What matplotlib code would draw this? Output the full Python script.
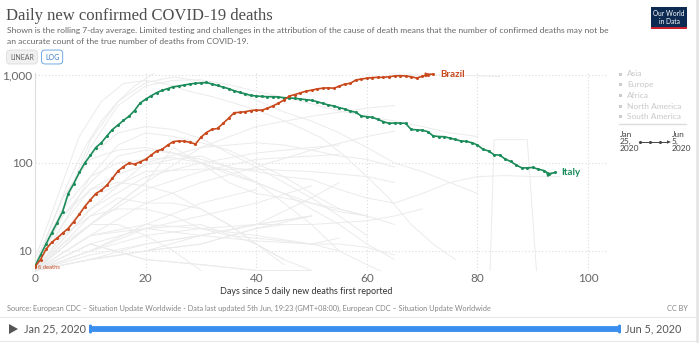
import matplotlib.pyplot as plt
import numpy as np
from matplotlib.patches import Rectangle, Polygon, FancyBboxPatch
from matplotlib.lines import Line2D

# daily deaths, rolling 7-day average, starting at day 0
italy = [6.7, 9, 12, 16, 21, 28, 45, 58, 78, 100,
         122, 150, 170, 203, 240, 270, 305, 340, 395, 480,
         530, 580, 630, 670, 700, 735, 750, 770, 790, 805,
         812, 822, 790, 760, 727, 700, 663, 635, 612, 587,
         577, 571, 567, 567, 562, 552, 548, 543, 534, 525,
         516, 498, 477, 457, 445, 426, 411, 389, 377, 342,
         336, 330, 313, 295, 282, 285, 284, 282, 241, 238,
         236, 227, 203, 200, 199, 192, 185, 178, 176, 170,
         160, 143, 137, 124, 123, 111, 104, 95, 88, 88,
         89, 85, 82, 75, 78]
brazil = [6.6, 8, 10.5, 12.5, 14, 16, 18, 21.5, 26, 32,
          38, 45, 49, 56, 67, 81, 91, 100, 97, 103,
          110, 123, 137, 143, 160, 175, 178, 177, 172, 164,
          196, 222, 241, 247, 282, 322, 373, 376, 383, 394,
          400, 398, 418, 445, 477, 520, 577, 600, 627, 655,
          672, 695, 708, 715, 708, 745, 790, 803, 877, 900,
          920, 935, 941, 941, 957, 975, 983, 975, 957, 924,
          966, 1010, 1026]

# other countries, shown in light grey (days, deaths)
usa = ([0, 3, 6, 9, 12, 15, 18, 21, 24, 60, 63, 66, 70, 75, 80, 84],
       [6, 20, 60, 150, 300, 500, 750, 1000, 1300, 1300, 1100, 1000, 1000, 990, 980, 960])
uk = ([0, 5, 10, 15, 20, 25, 30, 35, 40, 45, 50, 55, 60, 65, 70, 75, 80],
      [7, 30, 150, 450, 750, 870, 880, 780, 650, 560, 470, 390, 340, 300, 260, 220, 200])
spain = ([0, 4, 8, 12, 16, 20, 24, 28, 32, 36, 40, 44, 48, 52, 56, 60, 64, 68, 72, 76],
         [8, 40, 200, 500, 800, 870, 780, 650, 570, 480, 400, 320, 250, 190, 120, 70, 40, 20, 12, 8])
france = ([0, 5, 10, 15, 20, 25, 30, 35, 40, 45, 50, 55, 60, 65, 70, 75, 80],
          [7, 30, 180, 500, 820, 950, 850, 700, 520, 380, 300, 220, 150, 100, 80, 60, 45])
mexico = ([0, 10, 20, 30, 40, 50, 60, 65], [6, 20, 60, 150, 260, 340, 420, 450])
india = ([0, 10, 20, 30, 40, 50, 60, 65], [6, 15, 35, 60, 90, 140, 200, 230])
germany = ([0, 5, 10, 15, 20, 25, 30, 35, 40, 45, 50, 55, 60, 65],
           [6, 20, 70, 160, 220, 200, 170, 140, 100, 70, 45, 30, 25, 20])
belgium = ([0, 5, 10, 15, 20, 25, 30, 35, 40, 45, 50, 55, 60],
           [7, 40, 120, 220, 260, 240, 190, 130, 90, 60, 40, 25, 15])
netherlands = ([0, 5, 10, 15, 20, 25, 30, 35, 40, 45, 50, 55, 60, 65],
               [7, 40, 110, 140, 150, 130, 100, 75, 60, 45, 30, 20, 12, 8])
canada = ([0, 10, 20, 30, 40, 45, 50, 55, 60, 65], [6, 30, 100, 150, 170, 160, 140, 120, 110, 90])
sweden = ([0, 10, 20, 30, 40, 50, 60, 65], [6, 40, 80, 85, 85, 80, 70, 60])
iran = ([0, 5, 10, 15, 20, 25, 30, 35, 40, 45, 50, 55, 60, 65, 70, 75, 80, 85, 90, 95],
        [7, 25, 60, 120, 140, 130, 110, 90, 80, 70, 65, 50, 40, 35, 45, 60, 70, 72, 70, 70])
turkey = ([0, 5, 10, 15, 20, 25, 30, 35, 40, 45, 50, 55, 60],
          [7, 30, 70, 100, 110, 115, 100, 80, 60, 45, 35, 28, 25])
ecuador = ([0, 10, 20, 25, 30, 35, 40, 45, 50, 55, 60],
           [6, 20, 60, 150, 100, 60, 45, 40, 35, 30, 25])
china = ([0, 5, 10, 15, 20, 25, 30, 35, 40, 45, 50, 55, 60, 65, 70, 75, 80, 82, 83, 89, 91, 93],
         [6, 25, 50, 75, 95, 110, 120, 90, 60, 35, 20, 10, 7, 5, 4, 3, 2, 1.5, 184, 184, 3, 1])
peru = ([0, 10, 20, 30, 40, 50, 55], [6, 20, 50, 80, 110, 120, 125])
russia = ([0, 10, 20, 30, 40, 50, 55], [6, 30, 70, 100, 130, 150, 160])
chile = ([0, 10, 20, 30, 40, 50, 55], [6, 8, 12, 15, 20, 40, 60])
colombia = ([0, 10, 20, 30, 40, 50], [6, 9, 12, 15, 20, 25])
pakistan = ([0, 10, 20, 30, 40, 50], [6, 12, 18, 25, 35, 55])
portugal = ([0, 5, 10, 15, 20, 25, 30, 35, 40, 45, 50, 55, 60, 65],
            [6, 15, 25, 30, 30, 25, 18, 15, 14, 13, 12, 12, 11, 9])
switzerland = ([0, 5, 10, 15, 20, 25, 30, 35, 40, 45, 50],
               [6, 20, 50, 60, 55, 45, 30, 20, 12, 8, 6])
ireland = ([0, 5, 10, 15, 20, 25, 30, 35, 40, 45], [6, 12, 25, 40, 35, 35, 30, 20, 12, 8])
indonesia = ([0, 10, 20, 30, 40, 50, 60, 65, 70], [6, 10, 15, 18, 20, 20, 22, 25, 30])
egypt = ([0, 10, 20, 30, 40, 50], [6, 8, 10, 12, 18, 25])
romania = ([0, 10, 20, 30, 40, 50, 55], [6, 15, 20, 18, 15, 12, 10])
poland = ([0, 10, 20, 30, 40, 50, 55], [6, 15, 18, 15, 13, 12, 14])
philippines = ([0, 10, 20, 30, 40], [6, 12, 8, 7, 6])
austria = ([0, 5, 10, 15, 20, 25, 30], [6, 12, 20, 20, 15, 10, 6])
japan = ([0, 10, 20, 30, 40, 45], [6, 10, 18, 20, 12, 7])
bangladesh = ([0, 10, 20, 30, 40, 50], [6, 8, 10, 15, 20, 25])
saudi = ([0, 10, 20, 30, 40, 45], [6, 8, 10, 12, 18, 20])
algeria = ([0, 10, 20, 30, 40, 50], [6, 12, 8, 7, 6, 6])
south_africa = ([0, 10, 20, 30, 40], [6, 10, 20, 35, 50])

others = [usa, uk, spain, france, mexico, india, germany, belgium, netherlands,
          canada, sweden, iran, turkey, ecuador, china, peru, russia, chile,
          colombia, pakistan, portugal, switzerland, ireland, indonesia, egypt,
          romania, poland, philippines, austria, japan, bangladesh, saudi,
          algeria, south_africa]

continents = ["Asia", "Europe", "Africa", "North America", "South America"]
y_ticks = [10, 100, 1000]
y_tick_labels = ["10", "100", "1,000"]
x_ticks = [0, 20, 40, 60, 80, 100]

W, H = 700, 344
ITALY_C = "#1b8c5a"
BRAZIL_C = "#c9491d"


def fx(x):
    return x / W


def fy(y):
    return 1 - y / H


fig = plt.figure(figsize=(7, 3.44), dpi=100)
ax = fig.add_axes([fx(35), fy(270.5), 573 / W, 197.5 / H])

for days, deaths in others:
    ax.plot(days, deaths, color="#ebebeb", lw=0.7, zorder=1)

for vals, col, name in [(italy, ITALY_C, "Italy"), (brazil, BRAZIL_C, "Brazil")]:
    d = np.arange(len(vals))
    ax.plot(d, vals, color=col, lw=1.2, marker="o", ms=1.2, zorder=3)
    ax.annotate("", xy=(d[-1], vals[-1]), xytext=(d[-2], vals[-2]),
                arrowprops=dict(arrowstyle="-|>", color=col, lw=1.1, mutation_scale=6), zorder=4)
    ax.text(d[-1] + 1.2, vals[-1], name, color=col, fontsize=7, fontweight="bold",
            va="center", ha="left", family="Lato")

ax.text(0.6, 6.5, "6 deaths", color=BRAZIL_C, fontsize=3.6, va="center", ha="left")

ax.set_yscale("log")
ax.set_ylim(6, 1054)
ax.set_xlim(0, 103.6)
ax.set_yticks(y_ticks)
ax.set_yticklabels(y_tick_labels)
ax.yaxis.set_minor_locator(plt.NullLocator())
ax.set_xticks(x_ticks)
ax.tick_params(length=0, labelsize=8.5, labelcolor="#666666", pad=2)
for lab in ax.get_xticklabels() + ax.get_yticklabels():
    lab.set_family("Lato")
ax.grid(True, color="#dcdcdc", lw=0.8, linestyle=(0, (1, 2)))
for s in ["top", "right", "bottom"]:
    ax.spines[s].set_visible(False)
ax.spines["left"].set_color("#dddddd")
ax.set_axisbelow(True)

fig.text(fx(306), fy(291), "Days since 5 daily new deaths first reported", fontsize=6.5,
         color="#333333", ha="center", va="center", family="Lato")

# header
fig.text(fx(6), fy(16), "Daily new confirmed COVID-19 deaths", fontsize=12,
         color="#4d4d4d", va="center", ha="left", family="Liberation Serif")
fig.text(fx(7), fy(31), "Shown is the rolling 7-day average. Limited testing and challenges in the "
         "attribution of the cause of death means that the number of confirmed deaths may not be",
         fontsize=6.1, color="#666666", va="center", family="Lato")
fig.text(fx(7), fy(42), "an accurate count of the true number of deaths from COVID-19.",
         fontsize=6.1, color="#666666", va="center", family="Lato")
fig.text(fx(10), fy(57), "LINEAR", fontsize=5, color="#666666", va="center", family="Lato",
         bbox=dict(boxstyle="round,pad=0.5", fc="#f0f0f0", ec="#dddddd", lw=0.6))
fig.text(fx(45), fy(57), "LOG", fontsize=5, color="#3d7cc9", va="center", family="Lato",
         bbox=dict(boxstyle="round,pad=0.5", fc="white", ec="#5b9be0", lw=0.6))

# logo
fig.patches.append(Rectangle((fx(651), fy(29)), 36 / W, 22 / H, transform=fig.transFigure,
                             fc="#0d2b52", ec="none"))
fig.patches.append(Rectangle((fx(651), fy(29)), 36 / W, 2 / H, transform=fig.transFigure,
                             fc="#c8202f", ec="none"))
fig.text(fx(669), fy(17.5), "Our World\nin Data", fontsize=4.8, color="white", ha="center",
         va="center", linespacing=1.0, family="Lato")

# legend
for i, c in enumerate(continents):
    yy = 74 + i * 10.7
    fig.patches.append(Rectangle((fx(619), fy(yy + 1.5)), 3 / W, 3 / H, transform=fig.transFigure,
                                 fc="#cccccc", ec="none"))
    fig.text(fx(627), fy(yy), c, fontsize=6, color="#c8c8c8", va="center", family="Lato")
fig.add_artist(Line2D([fx(619), fx(686)], [fy(124), fy(124)], color="#dddddd", lw=1))
fig.text(fx(620), fy(131), "Jan\n25,\n2020", fontsize=6, color="#444444", va="top",
         linespacing=1.0, family="Lato")
fig.text(fx(672), fy(131), "Jun\n5,\n2020", fontsize=6, color="#444444", va="top",
         linespacing=1.0, family="Lato")
fig.add_artist(Line2D([fx(640), fx(650), fx(660)], [fy(142)] * 3, color="#444444", lw=0.7,
                      marker="o", ms=1.2))
fig.add_artist(Line2D([fx(660), fx(667)], [fy(142)] * 2, color="#444444", lw=0.7))
fig.patches.append(Polygon([[fx(667), fy(140.3)], [fx(671), fy(142)], [fx(667), fy(143.7)]],
                           closed=True, transform=fig.transFigure, fc="#444444", ec="none"))

# right border
fig.add_artist(Line2D([fx(697), fx(697)], [fy(0), fy(341)], color="#e6e6e6", lw=2))

# footer
fig.text(fx(7), fy(308.5), "Source: European CDC – Situation Update Worldwide - Data last updated "
         "5th Jun, 19:23 (GMT+08:00), European CDC – Situation Update Worldwide",
         fontsize=5.3, color="#858585", va="center", family="Lato")
fig.text(fx(688), fy(308.5), "CC BY", fontsize=5.3, color="#858585", va="center", ha="right",
         family="Lato")
fig.add_artist(Line2D([0, fx(695)], [fy(317)] * 2, color="#e8e8e8", lw=0.8))
fig.add_artist(Line2D([0, fx(695)], [fy(340.5)] * 2, color="#e8e8e8", lw=0.8))

# timeline
fig.patches.append(Polygon([[fx(9), fy(324)], [fx(18), fy(329)], [fx(9), fy(334)]], closed=True,
                           transform=fig.transFigure, fc="#555555", ec="none"))
fig.text(fx(24), fy(329), "Jan 25, 2020", fontsize=7.8, color="#555555", va="center",
         family="Lato")
fig.text(fx(625), fy(329), "Jun 5, 2020", fontsize=7.8, color="#555555", va="center",
         family="Lato")
fig.add_artist(Line2D([fx(90), fx(619)], [fy(329)] * 2, color="#3a8ef0", lw=4.2,
                      solid_capstyle="butt"))
for hx in [89, 618]:
    fig.patches.append(FancyBboxPatch((fx(hx), fy(333.5)), 3 / W, 9 / H, transform=fig.transFigure,
                                      boxstyle="round,pad=0,rounding_size=0.003",
                                      fc="#3a8ef0", ec="none"))

fig.savefig("out.png", dpi=100)
